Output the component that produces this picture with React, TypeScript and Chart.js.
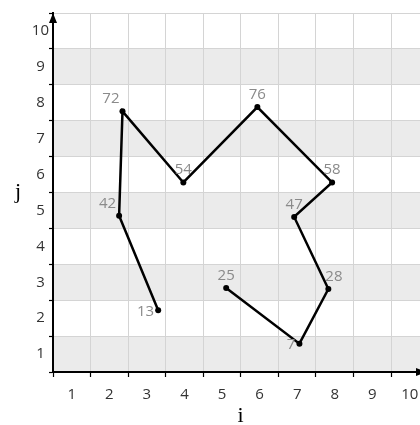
import React, { useEffect, useRef } from 'react';
import { Chart, registerables } from 'chart.js';

Chart.register(...registerables);

// data
const pointLabels = ['13', '42', '72', '54', '76', '58', '47', '28', '7', '25'];
const iValues = [2.8, 1.76, 1.85, 3.47, 5.44, 7.43, 6.42, 7.33, 6.56, 4.61];
const jValues = [1.72, 4.35, 7.26, 5.28, 7.38, 5.28, 4.32, 2.31, 0.79, 2.34];
const labelPlacement = ['left', 'topleft', 'topleft', 'top', 'top', 'top', 'top', 'topright', 'left', 'top'];
const tickLabels = ['1', '2', '3', '4', '5', '6', '7', '8', '9', '10'];
const tickCenters = [0.5, 1.5, 2.5, 3.5, 4.5, 5.5, 6.5, 7.5, 8.5, 9.5];
const xTitle = 'i';
const yTitle = 'j';

const TICK_FONT = { family: "'Open Sans', 'Liberation Sans', sans-serif", size: 15 };

const decorPlugin = {
  id: 'decor',
  beforeDraw(chart: any) {
    const { ctx, chartArea } = chart;
    const y = chart.scales.y;
    ctx.save();
    ctx.fillStyle = '#ebebeb';
    tickCenters.forEach((c, idx) => {
      if (idx % 2 === 0) {
        const top = y.getPixelForValue(c + 0.5);
        const bot = y.getPixelForValue(c - 0.5);
        ctx.fillRect(chartArea.left, top, chartArea.right - chartArea.left, bot - top);
      }
    });
    ctx.restore();
  },
  afterDatasetsDraw(chart: any) {
    const { ctx } = chart;
    const meta = chart.getDatasetMeta(0);
    ctx.save();
    ctx.font = `15px ${TICK_FONT.family}`;
    ctx.fillStyle = '#8a8a8a';
    meta.data.forEach((el: any, idx: number) => {
      const txt = pointLabels[idx];
      const p = labelPlacement[idx];
      if (p === 'top') {
        ctx.textAlign = 'center';
        ctx.textBaseline = 'alphabetic';
        ctx.fillText(txt, el.x, el.y - 8);
      } else if (p === 'topleft') {
        ctx.textAlign = 'right';
        ctx.textBaseline = 'alphabetic';
        ctx.fillText(txt, el.x - 3, el.y - 8);
      } else if (p === 'topright') {
        ctx.textAlign = 'left';
        ctx.textBaseline = 'alphabetic';
        ctx.fillText(txt, el.x - 3, el.y - 8);
      } else {
        ctx.textAlign = 'right';
        ctx.textBaseline = 'middle';
        ctx.fillText(txt, el.x - 4, el.y + 1);
      }
    });
    ctx.restore();
  },
  afterDraw(chart: any) {
    const { ctx, chartArea } = chart;
    const { left, top, right, bottom } = chartArea;
    ctx.save();
    ctx.fillStyle = '#000';
    // y arrow
    ctx.beginPath();
    ctx.moveTo(left, top);
    ctx.lineTo(left - 4, top + 10);
    ctx.lineTo(left + 4, top + 10);
    ctx.closePath();
    ctx.fill();
    // x arrow
    ctx.beginPath();
    ctx.moveTo(right + 6, bottom);
    ctx.lineTo(right - 4, bottom - 4);
    ctx.lineTo(right - 4, bottom + 4);
    ctx.closePath();
    ctx.fill();
    // titles
    ctx.font = "22px 'Liberation Serif', 'DejaVu Serif', serif";
    ctx.textAlign = 'center';
    ctx.textBaseline = 'alphabetic';
    ctx.fillText(yTitle, 18, (top + bottom) / 2 + 5);
    ctx.fillText(xTitle, (left + right) / 2 + 4, 422);
    ctx.restore();
  },
};

export default function App() {
  const ref = useRef<HTMLCanvasElement | null>(null);

  useEffect(() => {
    if (!ref.current) return;
    const chart = new Chart(ref.current, {
      type: 'scatter',
      data: {
        datasets: [
          {
            data: iValues.map((x, k) => ({ x, y: jValues[k] })),
            showLine: true,
            borderColor: '#000',
            backgroundColor: '#000',
            borderWidth: 2.5,
            pointRadius: 3,
            pointBackgroundColor: '#000',
            pointBorderWidth: 0,
          },
        ],
      },
      options: {
        responsive: false,
        animation: false,
        layout: { autoPadding: false, padding: { top: 13, right: 0, left: 0, bottom: 0 } },
        plugins: { legend: { display: false }, tooltip: { enabled: false } },
        scales: {
          x: {
            type: 'linear',
            min: 0,
            max: 9.77,
            afterBuildTicks: (s: any) => {
              s.ticks = tickCenters.map((v) => ({ value: v }));
            },
            afterFit: (s: any) => {
              s.height = 53;
              s.paddingLeft = 0;
              s.paddingRight = 0;
            },
            grid: {
              offset: true,
              color: '#d4d4d4',
              lineWidth: 1,
              tickColor: '#000',
              tickLength: 5,
              tickWidth: 1.2,
            },
            border: { color: '#000', width: 2 },
            ticks: {
              callback: (_v: any, i: number) => tickLabels[i],
              font: TICK_FONT,
              color: '#333',
              padding: 9,
              maxRotation: 0,
              autoSkip: false,
            },
          },
          y: {
            type: 'linear',
            min: 0,
            max: 10,
            afterBuildTicks: (s: any) => {
              s.ticks = tickCenters.map((v) => ({ value: v }));
            },
            afterFit: (s: any) => {
              s.width = 53;
              s.paddingTop = 0;
              s.paddingBottom = 0;
            },
            grid: {
              offset: true,
              color: '#d4d4d4',
              lineWidth: 1,
              tickColor: '#000',
              tickLength: 4,
              tickWidth: 1.2,
            },
            border: { color: '#000', width: 2 },
            ticks: {
              callback: (_v: any, i: number) => tickLabels[i],
              font: TICK_FONT,
              color: '#333',
              padding: 0,
              crossAlign: 'center',
              autoSkip: false,
            },
          },
        },
      },
      plugins: [decorPlugin],
    } as any);
    return () => chart.destroy();
  }, []);

  return (
    <div style={{ position: 'absolute', left: 0, top: 0, width: 420, height: 425, background: '#fff' }}>
      <canvas ref={ref} width={420} height={425} style={{ display: 'block' }} />
    </div>
  );
}
